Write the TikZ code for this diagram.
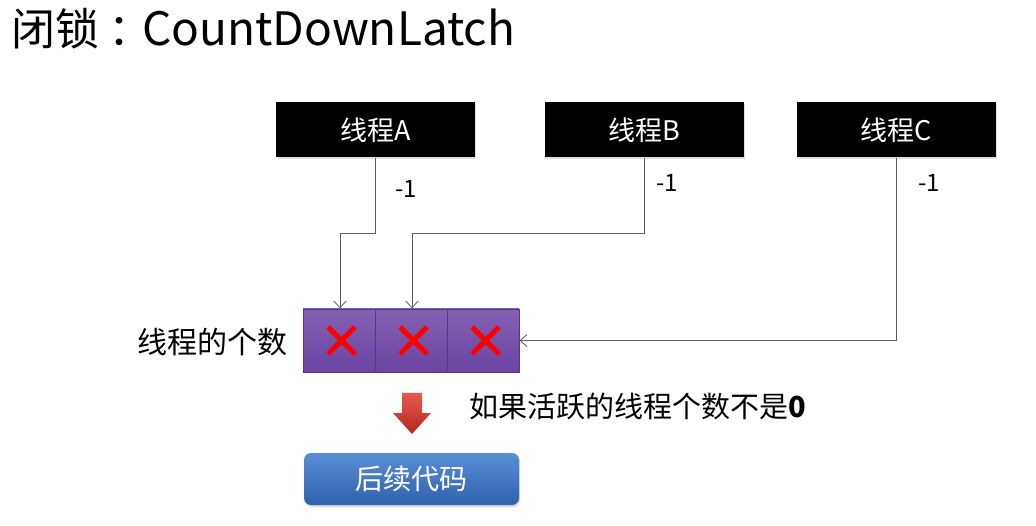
\documentclass[tikz,border=0pt]{standalone}
\usepackage{fontspec}
\setmainfont{Noto Sans CJK SC}
\usetikzlibrary{arrows.meta,shadows}
\definecolor{cellTop}{HTML}{8360B2}
\definecolor{cellBot}{HTML}{6A44A2}
\definecolor{cellLine}{HTML}{55368A}
\definecolor{connGray}{HTML}{606060}
\definecolor{btnTop}{HTML}{5A8ED6}
\definecolor{btnBot}{HTML}{2E62AD}
\definecolor{arrTop}{HTML}{E85A50}
\definecolor{arrBot}{HTML}{B0281F}
\tikzset{
  threadbox/.style={fill=black, text=white, minimum width=199pt, minimum height=55pt,
    inner sep=0pt, font=\fontsize{27}{30}\selectfont,
    drop shadow={shadow xshift=1pt, shadow yshift=-2pt, opacity=0.25}},
  cellbox/.style={top color=cellTop, bottom color=cellBot, draw=cellLine, line width=0.8pt,
    minimum width=72pt, minimum height=63pt, inner sep=0pt},
  conn/.style={draw=connGray, line width=0.9pt, -{Straight Barb[length=7pt,width=12pt,line width=0.8pt]}},
  xmark/.style={draw=red, line width=5pt},
  minus/.style={font=\fontsize{24}{28}\selectfont, inner sep=0pt},
  lbl/.style={font=\fontsize{30}{34}\selectfont, inner sep=0pt},
  btn/.style={top color=btnTop, bottom color=btnBot, rounded corners=7pt, text=white,
    minimum width=215pt, minimum height=52pt, inner sep=0pt, font=\fontsize{28}{32}\selectfont,
    drop shadow={shadow xshift=1pt, shadow yshift=-2pt, opacity=0.3}}
}
\begin{document}
\begin{tikzpicture}[x=1pt,y=-1pt]
\useasboundingbox (0,0) rectangle (1036,526);
% title
\node[anchor=west, inner sep=0pt, font=\fontsize{44}{50}\selectfont] (title) at (11,29) {闭锁\hspace{9pt}：\hspace{-10pt}{\fontsize{46}{50}\selectfont CountDownLatch}};
% thread boxes
\node[threadbox] (A) at (375.5,130) {线程A};
\node[threadbox] (B) at (644,130) {线程B};
\node[threadbox] (C) at (896.5,130) {线程C};
% cells
\node[cellbox] (c1) at (339,340.5) {};
\node[cellbox] (c2) at (411,340.5) {};
\node[cellbox] (c3) at (483,340.5) {};
\foreach \c in {c1,c2,c3}{
  \draw[xmark] ([shift={(-11,-13.5)}]\c.center) -- ([shift={(16,13.5)}]\c.center);
  \draw[xmark] ([shift={(16,-13.5)}]\c.center) -- ([shift={(-11,13.5)}]\c.center);
}
% connectors
\draw[conn] (A.south) -- ++(0,76) -| ([xshift=1pt]c1.north);
\draw[conn] (B.south) -- ++(0,76) -| ([xshift=1pt]c2.north);
\draw[conn] (C.south) |- (c3.east);
% -1 labels
\node[minus] (mA) at (406,189) {-1};
\node[minus] (mB) at (667,183) {-1};
\node[minus] (mC) at (929,183) {-1};
% labels
\node[lbl] (count) at (212,342) {线程的个数};
\node[lbl, anchor=west, font=\fontsize{29}{34}\selectfont] (cond) at (469,406) {如果活跃的线程个数不是\textbf{0}};
% red block arrow
\shade[top color=arrTop, bottom color=arrBot]
  (402,393) -- (422,393) -- (422,413) -- (431,413) -- (412,434) -- (393,413) -- (402,413) -- cycle;
% button
\node[btn] (next) at (411.5,479) {后续代码};
\end{tikzpicture}
\end{document}
